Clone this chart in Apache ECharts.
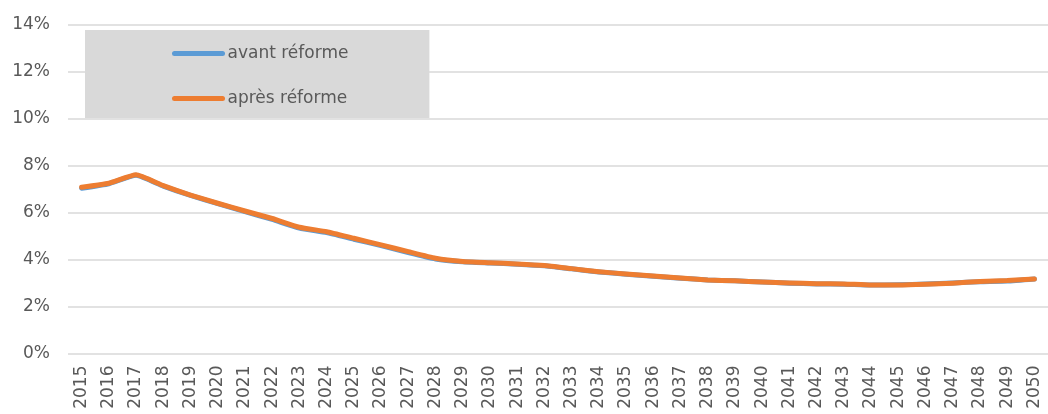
<!DOCTYPE html>
<html>
<head>
<meta charset="utf-8">
<script src="https://cdn.jsdelivr.net/npm/echarts@6/dist/echarts.min.js"></script>
<style>
html,body{margin:0;padding:0;background:#fff;}
#c{width:1048px;height:414px;}
</style>
</head>
<body>
<div id="c"></div>
<script>
const years = ['2015','2016','2017','2018','2019','2020','2021','2022','2023','2024','2025','2026','2027','2028','2029','2030','2031','2032','2033','2034','2035','2036','2037','2038','2039','2040','2041','2042','2043','2044','2045','2046','2047','2048','2049','2050'];
const avantReforme = [7.03,7.22,7.58,7.12,6.72,6.37,6.03,5.70,5.33,5.14,4.86,4.59,4.29,4.02,3.90,3.85,3.80,3.73,3.60,3.47,3.37,3.29,3.20,3.13,3.09,3.04,2.99,2.96,2.95,2.91,2.92,2.96,3.00,3.05,3.08,3.17];
const apresReforme = [7.07,7.24,7.60,7.14,6.74,6.39,6.06,5.74,5.37,5.18,4.90,4.62,4.33,4.05,3.91,3.86,3.81,3.74,3.61,3.48,3.38,3.30,3.21,3.13,3.09,3.04,3.00,2.97,2.96,2.91,2.91,2.94,2.99,3.06,3.10,3.17];
const yTicks = {min:0, max:14, interval:2};

const FONT = 'DejaVu Sans';
const TXT = '#595959';
const chart = echarts.init(document.getElementById('c'), null, {renderer:'canvas'});
chart.setOption({
  animation:false,
  backgroundColor:'#ffffff',
  grid:{left:68, top:24.3, width:990, height:329.2, containLabel:false},
  legend:{
    orient:'vertical',
    left:85, top:30,
    backgroundColor:'#d9d9d9',
    padding:[15,81,11,87],
    itemWidth:48, itemHeight:14, itemGap:28,
    textStyle:{fontFamily:FONT, fontSize:17, color:TXT},
    data:['avant réforme','après réforme'],
    lineStyle:{width:5, cap:'round'},
    itemStyle:{opacity:0, borderWidth:0}
  },
  xAxis:{
    type:'category',
    data:years,
    boundaryGap:true,
    axisLine:{show:false},
    axisTick:{show:false},
    axisLabel:{rotate:90, margin:12, interval:0, fontFamily:FONT, fontSize:17, color:TXT}
  },
  yAxis:{
    type:'value',
    min:yTicks.min, max:yTicks.max, interval:yTicks.interval,
    axisLine:{show:false},
    axisTick:{show:false},
    axisLabel:{formatter:'{value}%', margin:18, fontFamily:FONT, fontSize:17, color:TXT},
    splitLine:{lineStyle:{color:'#d9d9d9', width:1.5}}
  },
  series:[
    {name:'avant réforme', type:'line', data:avantReforme, showSymbol:false, symbol:'none', smooth:0.15,
     lineStyle:{color:'#5b9bd5', width:5, cap:'round', join:'round'}, itemStyle:{color:'#5b9bd5'}},
    {name:'après réforme', type:'line', data:apresReforme, showSymbol:false, symbol:'none', smooth:0.15,
     lineStyle:{color:'#ed7d31', width:5, cap:'round', join:'round'}, itemStyle:{color:'#ed7d31'}}
  ]
});
</script>
</body>
</html>
